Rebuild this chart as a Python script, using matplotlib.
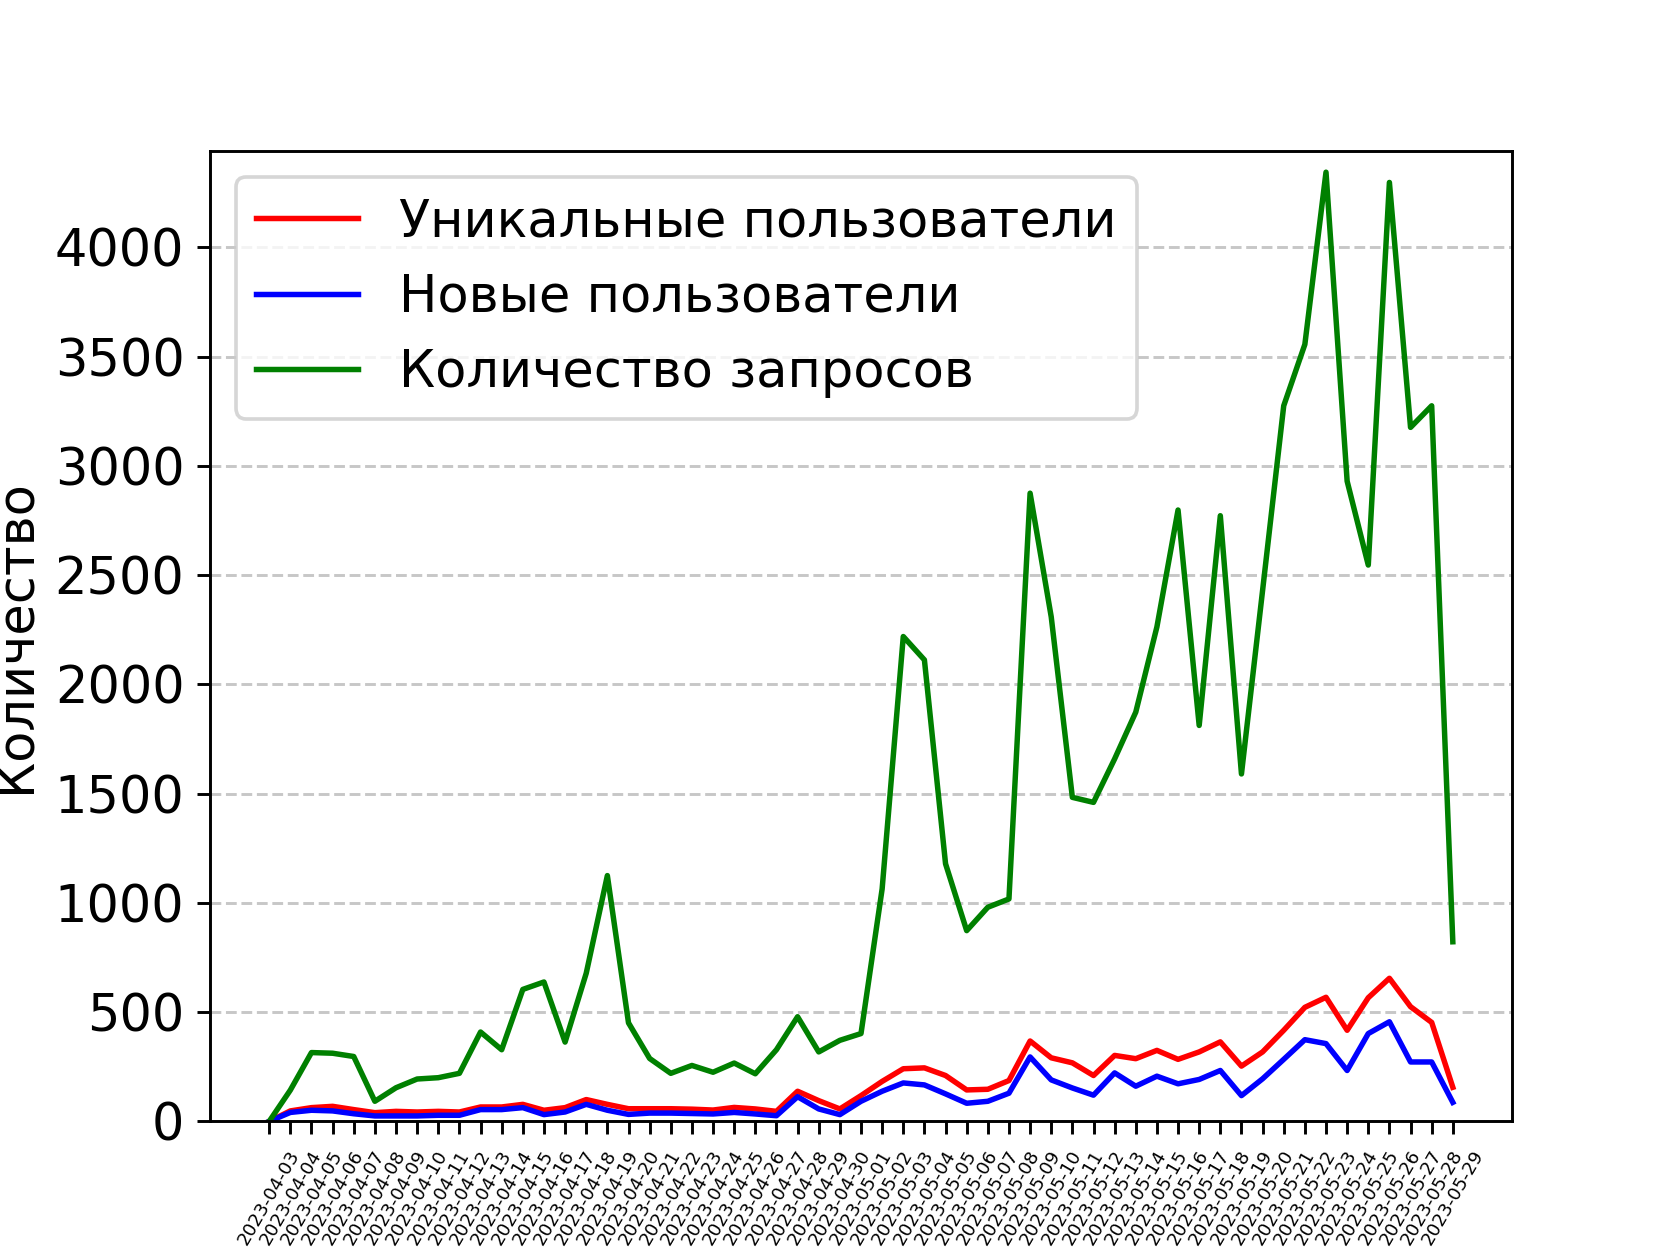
import pandas as pd
import matplotlib
matplotlib.use("Agg")
import matplotlib.pyplot as plt

dates = [d.strftime("%Y-%m-%d") for d in pd.date_range("2023-04-03", "2023-05-29")]

# Уникальные пользователи
unique_users = [0, 48, 63, 69, 54, 40, 46, 43, 46, 43,
                66, 66, 78, 51, 63, 100, 78, 58, 58, 58,
                56, 52, 64, 57, 46, 138, 95, 57, 118, 183,
                241, 245, 210, 144, 147, 187, 368, 291, 268, 210,
                302, 287, 325, 284, 318, 364, 253, 318, 417, 522,
                568, 417, 566, 655, 525, 453, 156]

# Новые пользователи
new_users = [0, 41, 51, 48, 35, 25, 25, 25, 28, 28,
             54, 54, 63, 31, 43, 78, 51, 32, 38, 38,
             36, 34, 41, 34, 26, 113, 57, 31, 92, 138,
             176, 167, 126, 83, 92, 129, 295, 190, 153, 120,
             222, 161, 207, 172, 192, 233, 118, 195, 284, 374,
             356, 233, 402, 456, 272, 272, 87]

# Количество запросов
requests = [0, 143, 315, 312, 297, 92, 154, 194, 200, 220,
            409, 328, 604, 638, 363, 678, 1125, 451, 288, 220,
            256, 225, 267, 218, 328, 479, 318, 371, 402, 1064,
            2219, 2112, 1179, 873, 980, 1018, 2875, 2309, 1483, 1460,
            1659, 1873, 2263, 2798, 1812, 2772, 1590, 2430, 3275, 3556,
            4344, 2930, 2546, 4297, 3176, 3275, 822]

plt.figure(figsize=(6.4, 4.8), dpi=262.5)
plt.plot(dates, unique_users, color="red", label="Уникальные пользователи")
plt.plot(dates, new_users, color="blue", label="Новые пользователи")
plt.plot(dates, requests, color="green", label="Количество запросов")

plt.ylim(0, 4440)
plt.xticks(rotation=60, fontsize=5)
plt.yticks(fontsize=14)
plt.ylabel("Количество", fontsize=14)
plt.grid(axis="y", linestyle="--", alpha=0.7)
plt.legend(loc="upper left", fontsize=14)

plt.savefig("out.png", dpi=262.5)
